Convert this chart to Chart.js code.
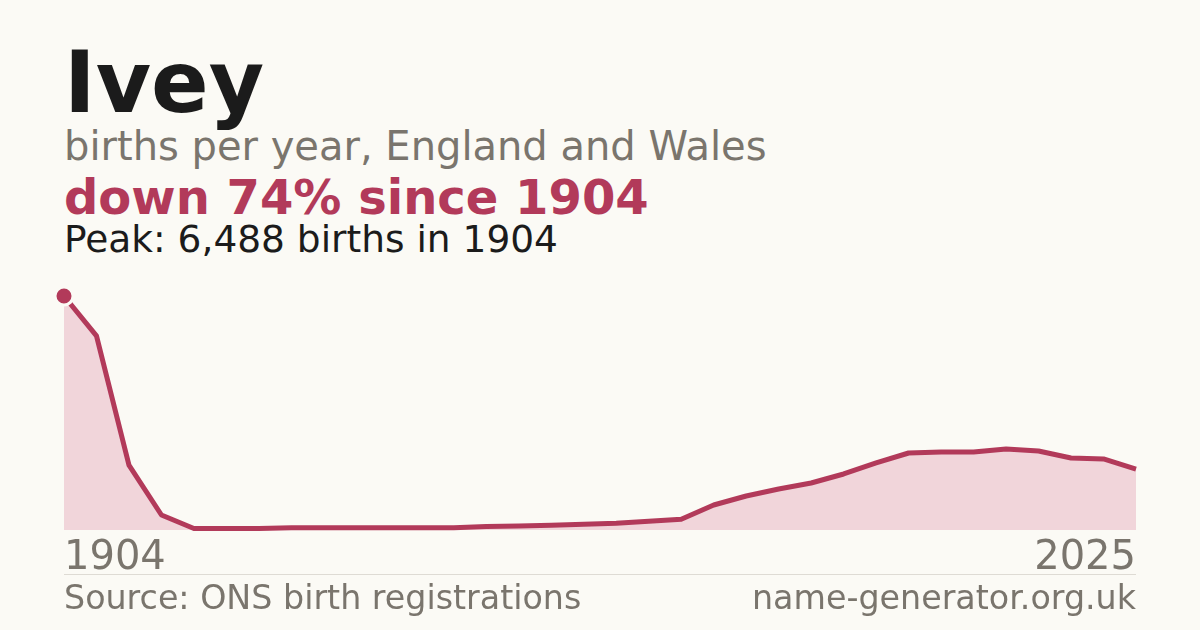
<!DOCTYPE html>
<html>
<head>
<meta charset="utf-8">
<script src="https://cdn.jsdelivr.net/npm/chart.js@4/dist/chart.umd.min.js"></script>
<style>
  html, body { margin: 0; padding: 0; }
  body {
    width: 1200px; height: 630px; overflow: hidden; position: relative;
    background: #fbfaf5; font-family: "DejaVu Sans", sans-serif;
  }
  .t { position: absolute; left: 64px; line-height: 1; white-space: nowrap; }
  #title { top: 40px; font-size: 85px; font-weight: bold; color: #1b1b1b; }
  #sub { top: 126px; font-size: 40px; color: #7a756d; }
  #change { top: 173px; font-size: 48px; font-weight: bold; color: #b23a5a; }
  #peak { top: 221px; font-size: 37.5px; color: #1b1b1b; }
  #rule { position: absolute; left: 64px; width: 1072px; top: 574px; height: 1px; background: #dedbd4; }
  #source { top: 581px; font-size: 33.3px; color: #7a756d; }
  #site { top: 581px; left: auto; right: 64px; font-size: 33.3px; color: #7a756d; }
  #wrap { position: absolute; left: 40px; top: 270px; width: 1120px; height: 318px; }
</style>
</head>
<body>
<div class="t" id="title">Ivey</div>
<div class="t" id="sub">births per year, England and Wales</div>
<div class="t" id="change">down 74% since 1904</div>
<div class="t" id="peak">Peak: 6,488 births in 1904</div>
<div id="wrap"><canvas id="grafico"></canvas></div>
<div id="rule"></div>
<div class="t" id="source">Source: ONS birth registrations</div>
<div class="t" id="site">name-generator.org.uk</div>
<script>
const anios = ['1904', '1908', '1911', '1915', '1919', '1922', '1926', '1930', '1933', '1937',
               '1941', '1944', '1948', '1952', '1955', '1959', '1963', '1966', '1970', '1974',
               '1977', '1981', '1985', '1988', '1992', '1996', '1999', '2003', '2007', '2010',
               '2014', '2018', '2021', '2025'];
const nacimientos = [6488, 5380, 1800, 416, 40, 40, 45, 60, 60, 60,
                     60, 60, 60, 100, 110, 130, 160, 190, 240, 300,
                     693, 943, 1137, 1303, 1553, 1858, 2135, 2163, 2163, 2246,
                     2190, 1997, 1969, 1690];
const etiquetasEje = ['1904', '2025'];

const rojo = '#b23a5a';
const fondo = '#fbfaf5';

const ctx = document.getElementById('grafico').getContext('2d');

new Chart(ctx, {
    type: 'line',
    data: {
        labels: anios,
        datasets: [{
            data: nacimientos,
            borderColor: rojo,
            backgroundColor: '#f1d5da',
            borderWidth: 5,
            borderJoinStyle: 'round',
            tension: 0,
            fill: 'origin',
            clip: false,
            pointRadius: nacimientos.map((v, i) => i === 0 ? 9 : 0),
            pointBackgroundColor: rojo,
            pointBorderColor: fondo,
            pointBorderWidth: 3
        }]
    },
    options: {
        responsive: true,
        maintainAspectRatio: false,
        animation: false,
        events: [],
        layout: { padding: { top: 20, left: 24, right: 24, bottom: 0 } },
        plugins: {
            legend: { display: false },
            tooltip: { enabled: false }
        },
        scales: {
            x: {
                grid: { display: false, drawTicks: false },
                border: { display: false },
                ticks: {
                    autoSkip: false,
                    maxRotation: 0,
                    align: 'inner',
                    padding: 9,
                    color: '#7a756d',
                    font: { family: 'DejaVu Sans', size: 40, lineHeight: 1 },
                    callback: function (value) {
                        const l = this.getLabelForValue(value);
                        return etiquetasEje.includes(l) ? l : null;
                    }
                }
            },
            y: {
                display: false,
                min: 0,
                max: 6654
            }
        }
    }
});
</script>
</body>
</html>
